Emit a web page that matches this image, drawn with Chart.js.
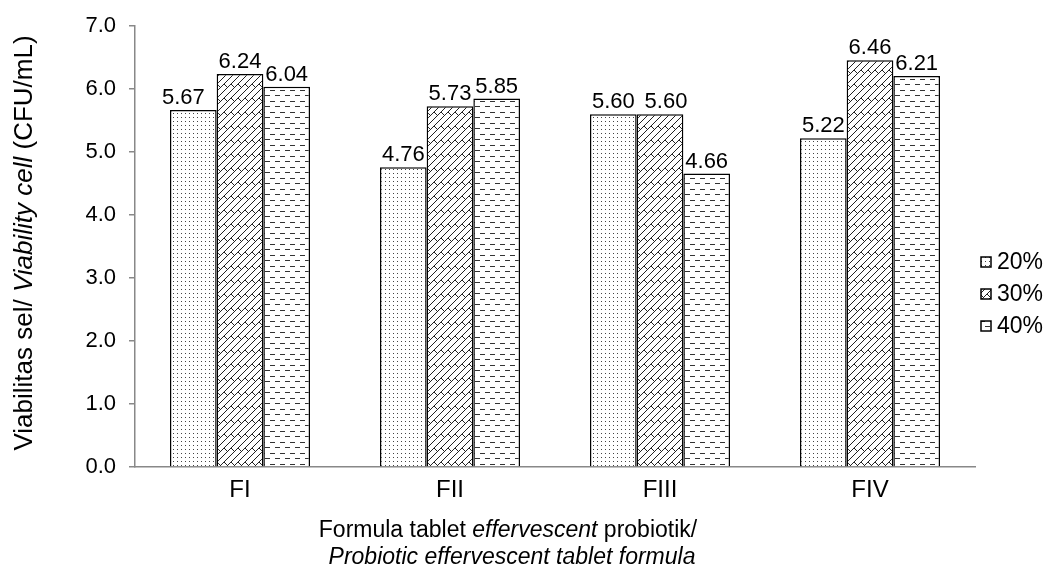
<!DOCTYPE html>
<html>
<head>
<meta charset="utf-8">
<script src="https://cdn.jsdelivr.net/npm/chart.js@4"></script>
<style>
  body { margin: 0; background: #fff; }
  #wrap { width: 1051px; height: 576px; }
</style>
</head>
<body>
<div id="wrap"><canvas id="chart" width="1051" height="576"></canvas></div>
<script>
const categories = ['FI', 'FII', 'FIII', 'FIV'];
const seriesNames = ['20%', '30%', '40%'];
const values20 = [5.67, 4.76, 5.60, 5.22];
const values30 = [6.24, 5.73, 5.60, 6.46];
const values40 = [6.04, 5.85, 4.66, 6.21];
const yTicks = [0, 1, 2, 3, 4, 5, 6, 7];

const FONT = '"Liberation Sans", Arial, sans-serif';

function makePattern(kind) {
    const c = document.createElement('canvas');
    const ctx = c.getContext('2d');
    if (kind === 'dots') {
        c.width = 8; c.height = 8;
        ctx.fillStyle = '#fff';
        ctx.fillRect(0, 0, 8, 8);
        ctx.fillStyle = '#444';
        ctx.fillRect(1, 1, 1, 1);
        ctx.fillRect(5, 5, 1, 1);
        ctx.fillRect(5, 1, 1, 1);
        ctx.fillRect(1, 5, 1, 1);
    } else if (kind === 'brick') {
        const s = 14;
        c.width = s; c.height = s;
        ctx.fillStyle = '#fff';
        ctx.fillRect(0, 0, s, s);
        ctx.strokeStyle = '#222';
        ctx.lineWidth = 1;
        ctx.beginPath();
        for (const k of [0, 7, 14, 21, 28]) {
            ctx.moveTo(-2, k + 2); ctx.lineTo(k + 2, -2);
        }
        for (const ox of [-s, 0, s]) {
            for (const oy of [-s, 0, s]) {
                ctx.moveTo(ox, oy); ctx.lineTo(ox + 3.5, oy + 3.5);
                ctx.moveTo(ox + 7, oy); ctx.lineTo(ox + 10.5, oy + 3.5);
            }
        }
        ctx.stroke();
    } else {
        c.width = 10; c.height = 11;
        ctx.fillStyle = '#fff';
        ctx.fillRect(0, 0, 10, 11);
        ctx.fillStyle = '#333';
        ctx.fillRect(0, 2, 5, 1);
        ctx.fillRect(5, 7, 5, 1);
    }
    return document.getElementById('chart').getContext('2d').createPattern(c, 'repeat');
}

const patterns = [makePattern('dots'), makePattern('brick'), makePattern('dash')];

// a few labels were nudged sideways in the original
const labelNudge = { '0-0': -10, '1-2': 6 };

const valueLabels = {
    id: 'valueLabels',
    afterDatasetsDraw(chart) {
        const ctx = chart.ctx;
        ctx.save();
        ctx.font = '22px ' + FONT;
        ctx.fillStyle = '#000';
        ctx.textAlign = 'center';
        ctx.textBaseline = 'alphabetic';
        chart.data.datasets.forEach((ds, i) => {
            chart.getDatasetMeta(i).data.forEach((bar, j) => {
                const dx = labelNudge[i + '-' + j] || 0;
                ctx.fillText(ds.data[j].toFixed(2), bar.x + dx, bar.y - 6);
            });
        });
        ctx.restore();
    }
};

function drawMixed(ctx, parts, x, y, size) {
    // parts: [text, italic]; draws centered at x
    let total = 0;
    parts.forEach(p => {
        ctx.font = (p[1] ? 'italic ' : '') + size + 'px ' + FONT;
        total += ctx.measureText(p[0]).width;
    });
    let cx = x - total / 2;
    ctx.textAlign = 'left';
    parts.forEach(p => {
        ctx.font = (p[1] ? 'italic ' : '') + size + 'px ' + FONT;
        ctx.fillText(p[0], cx, y);
        cx += ctx.measureText(p[0]).width;
    });
}

const titlesAndLegend = {
    id: 'titlesAndLegend',
    afterDraw(chart) {
        const ctx = chart.ctx;
        ctx.save();
        ctx.fillStyle = '#000';
        ctx.textBaseline = 'middle';

        // y axis title
        ctx.save();
        ctx.translate(25, 243);
        ctx.rotate(-Math.PI / 2);
        drawMixed(ctx, [['Viabilitas sel/ ', false], ['Viability cell', true], [' (CFU/mL)', false]], 0, 0, 26);
        ctx.restore();

        // x axis title
        drawMixed(ctx, [['Formula tablet ', false], ['effervescent', true], [' probiotik/', false]], 508, 531, 23);
        drawMixed(ctx, [['Probiotic effervescent tablet formula', true]], 512, 558, 23);

        // legend
        seriesNames.forEach((name, i) => {
            const y = 262 + i * 32;
            ctx.fillStyle = patterns[i];
            ctx.fillRect(981, y - 5, 10, 10);
            ctx.strokeStyle = '#000';
            ctx.lineWidth = 1.5;
            ctx.strokeRect(981, y - 5, 10, 10);
            ctx.fillStyle = '#000';
            ctx.font = '23px ' + FONT;
            ctx.textAlign = 'left';
            ctx.fillText(name, 997, y + 1);
        });
        ctx.restore();
    }
};

const datasetValues = [values20, values30, values40];

new Chart(document.getElementById('chart'), {
    type: 'bar',
    data: {
        labels: categories,
        datasets: seriesNames.map((name, i) => ({
            label: name,
            data: datasetValues[i],
            backgroundColor: patterns[i],
            borderColor: '#000',
            borderWidth: 1.5,
            categoryPercentage: 0.667,
            barPercentage: 1.0
        }))
    },
    options: {
        responsive: false,
        animation: false,
        layout: { padding: { left: 0, right: 76, top: 19, bottom: 0 } },
        plugins: {
            legend: { display: false },
            tooltip: { enabled: false }
        },
        scales: {
            x: {
                grid: { display: false, drawTicks: false },
                border: { color: '#888', width: 1.5 },
                ticks: { color: '#000', font: { family: FONT, size: 24 }, padding: 9 },
                afterFit(scale) { scale.height = 576 - 467; }
            },
            y: {
                min: 0,
                max: 7,
                afterBuildTicks(scale) { scale.ticks = yTicks.map(v => ({ value: v })); },
                grid: { drawOnChartArea: false, drawTicks: true, tickLength: 6, color: '#888', lineWidth: 1.5 },
                border: { color: '#888', width: 1.5 },
                ticks: {
                    color: '#000',
                    font: { family: FONT, size: 22 },
                    padding: 13,
                    callback: v => v.toFixed(1)
                },
                afterFit(scale) { scale.width = 135; }
            }
        }
    },
    plugins: [valueLabels, titlesAndLegend]
});
</script>
</body>
</html>
